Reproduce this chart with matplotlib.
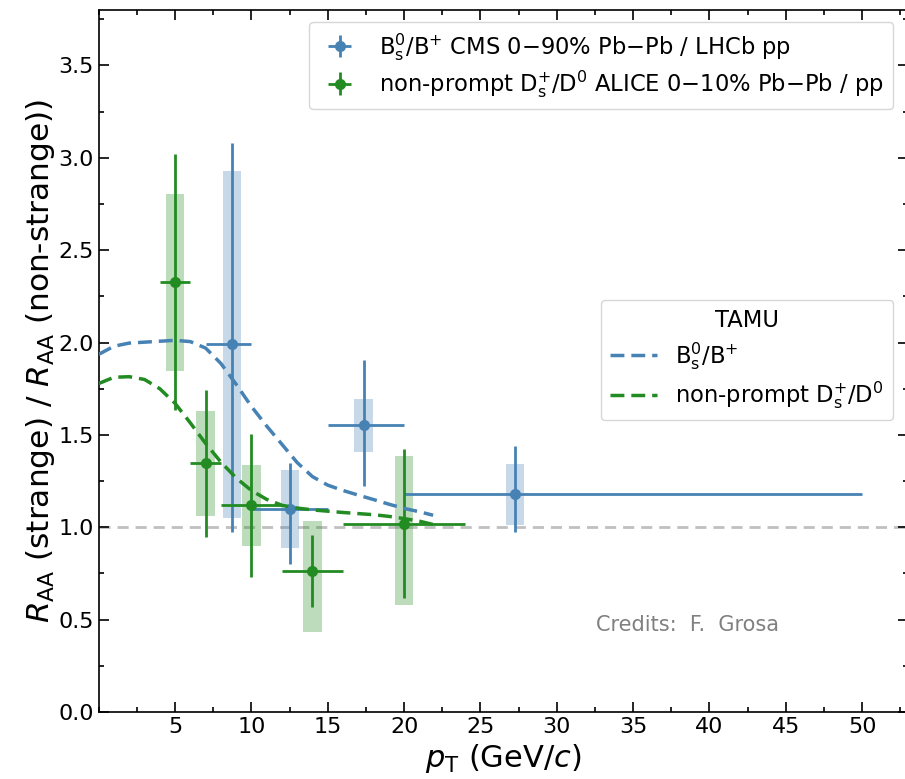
import matplotlib
matplotlib.use("Agg")
import matplotlib.pyplot as plt
from matplotlib.ticker import MultipleLocator
import numpy as np

# ---- data ----
# CMS Bs0/B+ (0-90% Pb-Pb / LHCb pp)
cms_x = [8.73, 12.55, 17.35, 27.27]
cms_xlo = [7.0, 10.0, 15.0, 20.0]
cms_xhi = [10.0, 15.0, 20.0, 50.0]
cms_y = [1.99, 1.10, 1.555, 1.18]
cms_stat_hi = [3.08, 1.35, 1.905, 1.44]
cms_stat_lo = [0.975, 0.80, 1.222, 0.975]
cms_syst_hi = [2.93, 1.31, 1.696, 1.34]
cms_syst_lo = [1.05, 0.89, 1.41, 1.01]

# ALICE non-prompt Ds+/D0 (0-10% Pb-Pb / pp)
alice_x = [5.0, 7.0, 10.0, 14.0, 20.0]
alice_xlo = [4.0, 6.0, 8.0, 12.0, 16.0]
alice_xhi = [6.0, 8.0, 12.0, 16.0, 24.0]
alice_y = [2.327, 1.348, 1.12, 0.763, 1.02]
alice_stat_hi = [3.02, 1.741, 1.503, 0.957, 1.425]
alice_stat_lo = [1.633, 0.948, 0.732, 0.568, 0.615]
alice_syst_hi = [2.805, 1.628, 1.336, 1.035, 1.385]
alice_syst_lo = [1.846, 1.062, 0.90, 0.433, 0.578]

# TAMU model curves
tamu_pt = [0, 1, 2, 3, 4, 5, 6, 7, 8, 9, 10, 11, 12, 13, 14, 15, 16, 17, 18, 19, 20, 21, 21.9]
tamu_bs = [1.936, 1.98, 1.997, 2.002, 2.007, 2.012, 2.005, 1.97, 1.887, 1.774, 1.654, 1.548,
           1.449, 1.35, 1.274, 1.228, 1.199, 1.174, 1.150, 1.125, 1.102, 1.084, 1.065]
tamu_ds = [1.778, 1.812, 1.815, 1.80, 1.75, 1.671, 1.565, 1.454, 1.353, 1.267, 1.199, 1.151,
           1.119, 1.104, 1.094, 1.087, 1.080, 1.074, 1.068, 1.059, 1.047, 1.033, 1.015]

blue = "#4682b4"
green = "#228b22"

fig = plt.figure(figsize=(9.05, 7.79), dpi=100)
ax = fig.add_axes([98.7 / 905, 67 / 779, 809.3 / 905, 702 / 779])

ax.axhline(1.0, color="#c0c0c0", lw=2, ls=(0, (4, 2.5)), zorder=1)

box_w = 1.2
for x, lo, hi in zip(cms_x, cms_syst_lo, cms_syst_hi):
    ax.add_patch(plt.Rectangle((x - box_w / 2, lo), box_w, hi - lo,
                               facecolor=blue, alpha=0.3, edgecolor="none", zorder=2))
for x, lo, hi in zip(alice_x, alice_syst_lo, alice_syst_hi):
    ax.add_patch(plt.Rectangle((x - box_w / 2, lo), box_w, hi - lo,
                               facecolor=green, alpha=0.3, edgecolor="none", zorder=2))

cms_x = np.array(cms_x); cms_y = np.array(cms_y)
alice_x = np.array(alice_x); alice_y = np.array(alice_y)

h1 = ax.errorbar(cms_x, cms_y,
                 xerr=[cms_x - np.array(cms_xlo), np.array(cms_xhi) - cms_x],
                 yerr=[cms_y - np.array(cms_stat_lo), np.array(cms_stat_hi) - cms_y],
                 fmt="o", color=blue, ms=7, lw=2, capsize=0, zorder=3,
                 label=r"B$_{\rm s}^{0}$/B$^{+}$ CMS 0$-$90% Pb$-$Pb / LHCb pp")
h2 = ax.errorbar(alice_x, alice_y,
                 xerr=[alice_x - np.array(alice_xlo), np.array(alice_xhi) - alice_x],
                 yerr=[alice_y - np.array(alice_stat_lo), np.array(alice_stat_hi) - alice_y],
                 fmt="o", color=green, ms=7, lw=2, capsize=0, zorder=4,
                 label=r"non-prompt D$_{\rm s}^{+}$/D$^{0}$ ALICE 0$-$10% Pb$-$Pb / pp")

l1, = ax.plot(tamu_pt, tamu_bs, color=blue, lw=2.5, ls=(0, (4, 2)), zorder=5,
              label=r"B$_{\rm s}^{0}$/B$^{+}$")
l2, = ax.plot(tamu_pt, tamu_ds, color=green, lw=2.5, ls=(0, (4, 2)), zorder=5,
              label=r"non-prompt D$_{\rm s}^{+}$/D$^{0}$")

leg1 = ax.legend(handles=[h1, h2], loc="upper right", fontsize=16.3,
                 bbox_to_anchor=(0.9815, 0.983), borderaxespad=0,
                 handlelength=1.9, labelspacing=0.25)
ax.add_artist(leg1)
ax.legend(handles=[l1, l2], loc="center right", fontsize=16.3, title="TAMU",
          title_fontsize=16.3, bbox_to_anchor=(0.9815, 0.5014), borderaxespad=0,
          handlelength=2.1, labelspacing=0.35)

ax.text(32.6, 0.47, "Credits:  F.  Grosa", color="#808080", fontsize=15,
        va="center", ha="left")

ax.set_xlim(0, 53)
ax.set_ylim(0, 3.8)
ax.set_xticks([5, 10, 15, 20, 25, 30, 35, 40, 45, 50])
ax.set_yticks([0.0, 0.5, 1.0, 1.5, 2.0, 2.5, 3.0, 3.5])
ax.xaxis.set_minor_locator(MultipleLocator(2.5))
ax.yaxis.set_minor_locator(MultipleLocator(0.25))
ax.tick_params(which="both", direction="in", top=True, right=True, labelsize=16, width=1.2)
ax.tick_params(which="major", length=7.5)
ax.tick_params(which="minor", length=3.8)
for s in ax.spines.values():
    s.set_linewidth(1.2)

ax.set_xlabel(r"$p_{\rm T}$ (GeV/$c$)", fontsize=22, labelpad=4)
ax.set_ylabel(r"$R_{\rm AA}$ (strange) / $R_{\rm AA}$ (non-strange))", fontsize=22.5, labelpad=1)

fig.savefig("out.png", dpi=100)
